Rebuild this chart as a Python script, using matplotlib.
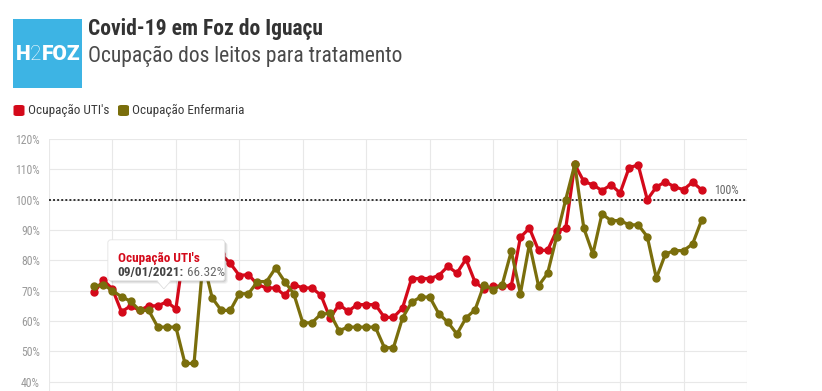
import matplotlib
matplotlib.use("Agg")
import matplotlib.pyplot as plt
import matplotlib.dates as mdates
from matplotlib import font_manager
from matplotlib.patches import FancyBboxPatch, Rectangle, Polygon
from matplotlib.text import Annotation
from matplotlib.transforms import IdentityTransform
import pandas as pd

W, H = 822, 391

# daily occupancy, starting 01/01/2021
dates = pd.date_range("2021-01-01", periods=68, freq="D")
uti = [
    69.5, 73.5, 70.5, 63.0, 65.0, 63.5, 65.0, 65.0, 66.32, 64.0,
    85.5, 85.0, 84.0, 83.0, 82.0, 79.0, 75.0, 75.3, 72.0, 70.9,
    70.9, 68.5, 72.0, 70.9, 70.9, 68.5, 61.0, 65.4, 63.2, 65.4,
    65.4, 65.4, 61.2, 61.2, 64.3, 74.0, 74.0, 74.0, 75.0, 78.0,
    75.8, 80.4, 72.8, 70.5, 71.4, 71.6, 71.6, 87.6, 90.6, 83.3,
    83.3, 89.8, 90.5, 111.6, 106.0, 104.9, 103.0, 104.9, 102.2, 110.6,
    111.4, 100.0, 104.2, 105.9, 104.2, 103.3, 105.8, 103.2,
]
enfermaria = [
    71.5, 72.0, 70.0, 68.0, 66.5, 63.5, 63.5, 58.0, 58.0, 58.0,
    46.0, 46.0, 80.0, 67.6, 63.5, 63.5, 69.0, 69.0, 73.0, 73.0,
    77.5, 73.0, 69.0, 59.4, 59.4, 62.3, 62.5, 56.8, 58.0, 58.0,
    58.0, 58.0, 51.2, 51.2, 61.0, 66.2, 67.9, 67.9, 62.4, 59.6,
    55.7, 61.0, 63.7, 72.0, 70.3, 72.0, 83.0, 69.0, 85.4, 71.6,
    75.7, 87.8, 100.0, 111.6, 90.6, 82.1, 95.3, 93.1, 93.1, 91.7,
    91.7, 87.8, 74.1, 82.1, 83.2, 83.2, 85.4, 93.3,
]
series_names = ["Ocupação UTI's", "Ocupação Enfermaria"]
y_ticks = [40, 50, 60, 70, 80, 90, 100, 110, 120]
week_lines = pd.date_range("2020-12-27", "2021-03-14", freq="7D")
tooltip_idx = 8

RED = "#d4091a"
OLIVE = "#7a6e0c"
LOGO = "#3db4e4"

available = {f.name for f in font_manager.fontManager.ttflist}


def pick(*names):
    for n in names:
        if n in available:
            return n
    return "DejaVu Sans"


COND = pick("Roboto Condensed", "Liberation Sans Narrow", "Roboto")
plt.rcParams["font.family"] = ["Roboto", "DejaVu Sans"]


def fx(px):
    return px / W


def fy(py):
    return 1 - py / H


fig = plt.figure(figsize=(W / 100, H / 100), dpi=100)
fig.patch.set_facecolor("white")

# plot area runs past the bottom edge of the image
ax = fig.add_axes([fx(49), fy(412), (747 - 49) / W, (412 - 139) / H])
ax.set_facecolor("white")
for s in ax.spines.values():
    s.set_visible(False)

ax.set_xlim(week_lines[0], week_lines[-1])
ax.set_ylim(30, 120)
ax.set_yticks(y_ticks)
ax.set_yticklabels([f"{t}%" for t in y_ticks])
ax.set_xticks(week_lines)
ax.set_xticklabels([])
ax.tick_params(length=0)
ax.tick_params(axis="y", pad=6.5, labelsize=8.5, labelcolor="#9a9a9a")
for lab in ax.get_yticklabels():
    lab.set_family(COND)
ax.grid(True, color="#e8e8e8", lw=0.8)
ax.set_axisbelow(True)

ax.axhline(100, color="#333333", lw=1.4, ls=(0, (1, 1.1)), zorder=2)
ax.annotate("100%", xy=(1, 100), xycoords=("axes fraction", "data"),
            xytext=(-8, 3), textcoords="offset pixels", ha="right", va="bottom",
            fontsize=8.5, color="#666666", family=COND)

ax.plot(dates, uti, color=RED, lw=2.3, marker="o", ms=5.0, zorder=3)
ax.plot(dates, enfermaria, color=OLIVE, lw=2.3, marker="o", ms=5.0, zorder=4)

# header: logo, title, subtitle
fig.add_artist(Rectangle((fx(13), fy(88)), 69 / W, 69 / H, transform=fig.transFigure,
                         facecolor=LOGO, edgecolor="none"))
logo_h = fig.text(fx(15.5), fy(60), "H", ha="left", va="baseline", color="white",
                  fontsize=15, fontweight="heavy", family="Roboto")
logo_2 = fig.add_artist(Annotation("2", xy=(1, 0), xycoords=logo_h, va="bottom",
                                   ha="left", color="white", fontsize=15,
                                   fontweight="light", family="Roboto"))
fig.add_artist(Annotation("FOZ", xy=(1, 0), xycoords=logo_2, va="bottom", ha="left",
                          color="white", fontsize=15, fontweight="heavy",
                          family="Roboto"))
fig.text(fx(88), fy(35), "Covid-19 em Foz do Iguaçu", ha="left", va="baseline",
         fontsize=15.5, fontweight="bold", color="#333333", family=COND)
fig.text(fx(88), fy(62), "Ocupação dos leitos para tratamento", ha="left", va="baseline",
         fontsize=15.5, color="#4a4a4a", family=COND)

# legend, drawn by hand to keep the rounded swatches
for sx, tx, color, name in ((13.5, 27.5, RED, series_names[0]),
                            (118, 132, OLIVE, series_names[1])):
    fig.add_artist(FancyBboxPatch((fx(sx), fy(116)), 11 / W, 11 / H,
                                  boxstyle="round,pad=0,rounding_size=0.004",
                                  transform=fig.transFigure, facecolor=color,
                                  edgecolor="none"))
    fig.text(fx(tx), fy(110.5), name, ha="left", va="center", fontsize=9.5,
             color="#3a3a3a", family=COND)

# tooltip anchored to the point it describes
fig.canvas.draw()
X, Y = ax.transData.transform((mdates.date2num(dates[tooltip_idx]), uti[tooltip_idx]))
bx0, bx1, by0, by1 = X - 59, X + 58, Y + 21, Y + 62
for off, alpha in ((3, 0.05), (2, 0.07), (1, 0.09)):
    fig.add_artist(FancyBboxPatch((bx0 + off, by0 - off), bx1 - bx0, by1 - by0,
                                  boxstyle="round,pad=0,rounding_size=3",
                                  transform=IdentityTransform(), facecolor="black",
                                  edgecolor="none", alpha=alpha, zorder=10))
fig.add_artist(Polygon([(X - 11, by0 + 1), (X + 5, by0 + 1), (X - 3, Y + 13)],
                       closed=True, transform=IdentityTransform(), facecolor="white",
                       edgecolor="#dddddd", lw=0.6, zorder=11))
fig.add_artist(FancyBboxPatch((bx0, by0), bx1 - bx0, by1 - by0,
                              boxstyle="round,pad=0,rounding_size=3",
                              transform=IdentityTransform(), facecolor="white",
                              edgecolor="#e4e4e4", lw=0.6, zorder=12))
fig.add_artist(Polygon([(X - 10, by0 + 1.5), (X + 4, by0 + 1.5), (X - 3, Y + 14)],
                       closed=True, transform=IdentityTransform(), facecolor="white",
                       edgecolor="none", zorder=13))
fig.text((X - 49) / W, (Y + 40) / H, series_names[0], ha="left", va="baseline",
         fontsize=9.5, fontweight="bold", color=RED, family=COND, zorder=14)
t2 = fig.text((X - 49) / W, (Y + 26) / H, f"{dates[tooltip_idx]:%d/%m/%Y}:", ha="left",
              va="baseline", fontsize=9.5, fontweight="bold", color="#444444",
              family=COND, zorder=14)
fig.add_artist(Annotation(f" {uti[tooltip_idx]:.2f}%", xy=(1, 0), xycoords=t2,
                          va="bottom", ha="left", fontsize=9.5, color="#6a6a6a",
                          family=COND, zorder=14))

fig.savefig("out.png", dpi=100, facecolor="white")
